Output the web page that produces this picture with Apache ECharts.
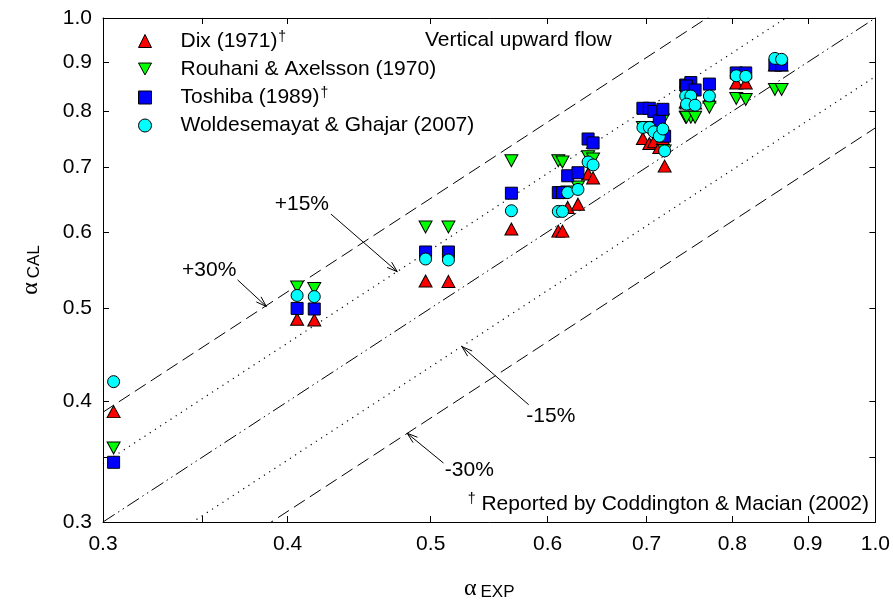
<!DOCTYPE html>
<html>
<head>
<meta charset="utf-8">
<script src="https://cdn.jsdelivr.net/npm/echarts@6/dist/echarts.min.js"></script>
<style>
  html, body { margin: 0; padding: 0; background: #fff; }
  #chart { width: 893px; height: 610px; }
</style>
</head>
<body>
<div id="chart"></div>
<script>
// Measured void fraction (shared by all four correlations)
const alphaExp = [0.305, 0.406, 0.417, 0.496, 0.514, 0.567, 0.610, 0.614, 0.619, 0.629, 0.639, 0.644,
  0.696, 0.703, 0.708, 0.714, 0.718, 0.720, 0.744, 0.750, 0.745, 0.755, 0.772, 0.805, 0.817, 0.855, 0.864];

// Predicted void fraction for each correlation
const dix = [0.3905, 0.487, 0.486, 0.5335, 0.533, 0.604, 0.601, 0.601, 0.636, 0.641, 0.689, 0.6825,
  0.750, 0.741, 0.744, 0.734, 0.750, 0.702, 0.818, 0.820, 0.816, 0.816, 0.828, 0.856, 0.856, 0.894, 0.894];
const rouhani = [0.358, 0.526, 0.524, 0.607, 0.607, 0.711, 0.711, 0.709, 0.660, 0.668, 0.718, 0.714,
  0.770, 0.770, 0.762, 0.754, 0.784, 0.728, 0.789, 0.789, 0.789, 0.789, 0.808, 0.825, 0.823, 0.843, 0.843];
const toshiba = [0.346, 0.4997, 0.499, 0.5718, 0.5718, 0.658, 0.659, 0.659, 0.686, 0.691, 0.749, 0.742,
  0.806, 0.806, 0.800, 0.782, 0.804, 0.754, 0.852, 0.857, 0.850, 0.842, 0.854, 0.877, 0.877, 0.894, 0.894];
const woldesemayat = [0.4195, 0.5154, 0.514, 0.5623, 0.561, 0.631, 0.630, 0.630, 0.659, 0.664, 0.709, 0.704,
  0.770, 0.770, 0.762, 0.754, 0.767, 0.728, 0.830, 0.830, 0.814, 0.812, 0.830, 0.871, 0.870, 0.908, 0.906];

const seriesNames = ['Dix (1971)', 'Rouhani & Axelsson (1970)', 'Toshiba (1989)', 'Woldesemayat & Ghajar (2007)'];
const daggered = ['Dix (1971)', 'Toshiba (1989)'];

// Axis ticks and labels
const tickValues = [0.3, 0.35, 0.4, 0.5, 0.6, 0.7, 0.8, 0.9, 1.0];
const labelValues = [0.3, 0.4, 0.5, 0.6, 0.7, 0.8, 0.9, 1.0];
const axisMin = 0.3, axisMax = 1.0;

// Error bands: alpha_CAL = factor * alpha_EXP
const bandFactors = [1.3, 1.15, 1, 1 / 1.15, 1 / 1.3];

// Band annotations (data units): label position, arrow tail, arrow tip
const bandLabels = ['+30%', '+15%', '-15%', '-30%'];
const bandLabelAt = [[0.354, 0.548], [0.409, 0.641], [0.603, 0.3865], [0.531, 0.3397]];
const bandArrowFrom = [[0.370, 0.535], [0.428, 0.626], [0.5825, 0.397], [0.510, 0.3454]];
const bandArrowTo = [[0.387, 0.502], [0.4746, 0.5455], [0.525, 0.456], [0.482, 0.3708]];

const FONT = "'Liberation Sans', Arial, Helvetica, sans-serif";
const lg = v => Math.log10(v);
const BLACK = '#000';
const DOWN_TRIANGLE = 'path://M0,0 L12,0 L6,11 Z';

const chart = echarts.init(document.getElementById('chart'), null, { renderer: 'canvas' });

const pairs = ys => alphaExp.map((x, i) => [x, ys[i]]);

const markerDefs = [
  { symbol: 'triangle', size: [13, 12], color: '#ff0000', data: dix },
  { symbol: DOWN_TRIANGLE, size: [13, 12], color: '#00ff00', data: rouhani },
  { symbol: 'rect', size: 12, color: '#0000ff', data: toshiba },
  { symbol: 'circle', size: 12, color: '#00ffff', data: woldesemayat }
];

const scatterSeries = markerDefs.map((m, i) => ({
  type: 'scatter', xAxisIndex: 0, yAxisIndex: 0, name: seriesNames[i],
  symbol: m.symbol, symbolSize: m.size, symbolKeepAspect: false,
  itemStyle: { color: m.color, borderColor: BLACK, borderWidth: 1, opacity: 1 },
  emphasis: { disabled: true }, data: pairs(m.data), z: 5
}));

const bandStyles = [
  { type: [13, 6], width: 1 },
  { type: [1.2, 5], width: 1.2 },
  { type: [14, 4, 1.5, 4, 1.5, 4], width: 1 },
  { type: [1.2, 5], width: 1.2 },
  { type: [13, 6], width: 1 }
];

const bandSeries = bandFactors.map((f, i) => ({
  type: 'line', xAxisIndex: 0, yAxisIndex: 0, silent: true, symbol: 'none', clip: true,
  lineStyle: { color: BLACK, width: bandStyles[i].width, type: bandStyles[i].type },
  data: [[axisMin, axisMin * f], [axisMax, axisMax * f]], z: 2
}));

const annotationSeries = {
  type: 'custom', xAxisIndex: 0, yAxisIndex: 0, silent: true, clip: false, z: 3,
  data: bandLabels.map((t, i) => [bandArrowFrom[i][0], bandArrowFrom[i][1], bandArrowTo[i][0], bandArrowTo[i][1], bandLabelAt[i][0], bandLabelAt[i][1]]),
  encode: { x: [0, 2, 4], y: [1, 3, 5] },
  renderItem: (params, api) => {
    const p0 = api.coord([api.value(0), api.value(1)]);
    const p1 = api.coord([api.value(2), api.value(3)]);
    const pt = api.coord([api.value(4), api.value(5)]);
    const ang = Math.atan2(p1[1] - p0[1], p1[0] - p0[0]);
    const L = 11, w = 0.32;
    const h1 = [p1[0] - L * Math.cos(ang - w), p1[1] - L * Math.sin(ang - w)];
    const h2 = [p1[0] - L * Math.cos(ang + w), p1[1] - L * Math.sin(ang + w)];
    return {
      type: 'group',
      children: [
        { type: 'line', shape: { x1: p0[0], y1: p0[1], x2: p1[0], y2: p1[1] }, style: { stroke: BLACK, lineWidth: 1 } },
        { type: 'polyline', shape: { points: [h1, p1, h2] }, style: { stroke: BLACK, fill: null, lineWidth: 1 } },
        { type: 'text', x: pt[0], y: pt[1], style: { text: bandLabels[params.dataIndex], fontSize: 21, fontFamily: FONT, fill: BLACK, align: 'center', verticalAlign: 'middle' } }
      ]
    };
  }
};

const tickCfg = { show: true, inside: true, length: 6, customValues: tickValues.map(lg), lineStyle: { color: BLACK, width: 1 } };
const hiddenLabels = { show: false };
const labelCfg = (margin) => ({
  show: true, customValues: labelValues.map(lg), margin: margin,
  formatter: v => Math.pow(10, v).toFixed(1), fontSize: 21, color: BLACK, fontFamily: FONT
});
const nameRich = {
  a: { fontSize: 24, fontFamily: "'Liberation Serif', 'DejaVu Serif', serif", color: BLACK },
  b: { fontSize: 17, fontFamily: FONT, color: BLACK, verticalAlign: 'bottom', padding: [0, 0, 0, 4] }
};

const option = {
  animation: false,
  backgroundColor: '#fff',
  grid: { left: 103, right: 15, top: 18, bottom: 88, containLabel: false },
  title: [
    { text: 'Vertical upward flow', left: 420, top: 25, textStyle: { fontSize: 21, fontWeight: 'normal', color: BLACK, fontFamily: FONT } },
    {
      text: '{s|†}{n| Reported by Coddington & Macian (2002)}', right: 19, top: 487,
      textStyle: {
        fontWeight: 'normal',
        rich: {
          s: { fontSize: 14, fontWeight: 'normal', fontFamily: FONT, color: BLACK, verticalAlign: 'top', lineHeight: 14 },
          n: { fontSize: 21, fontWeight: 'normal', fontFamily: FONT, color: BLACK, lineHeight: 24 }
        }
      }
    }
  ],
  legend: {
    orient: 'vertical', left: 133, top: 25, itemWidth: 13, itemHeight: 13, itemGap: 7,
    selectedMode: false, data: seriesNames,
    itemStyle: { borderColor: BLACK, borderWidth: 1, opacity: 1 },
    formatter: name => daggered.includes(name) ? `{n|${name}}{s|†}` : `{n|${name}}`,
    textStyle: {
      rich: {
        n: { fontSize: 21, fontFamily: FONT, color: BLACK, lineHeight: 22, padding: [0, 0, 0, 24] },
        s: { fontSize: 14, fontFamily: FONT, color: BLACK, verticalAlign: 'top', lineHeight: 12, padding: [0, 0, 0, 1] }
      }
    }
  },
  xAxis: [
    {
      type: 'log', logBase: 10, min: axisMin, max: axisMax, position: 'bottom',
      axisLine: { show: true, onZero: false, lineStyle: { color: BLACK, width: 1 } },
      axisTick: { show: false }, axisLabel: hiddenLabels, splitLine: { show: false }
    },
    {
      type: 'value', min: lg(axisMin), max: lg(axisMax), position: 'bottom',
      axisLine: { show: false, onZero: false }, axisTick: tickCfg, axisLabel: labelCfg(12),
      splitLine: { show: false },
      name: '{a|α}{b|EXP}', nameLocation: 'middle', nameGap: 55,
      nameTextStyle: { rich: nameRich }
    },
    {
      type: 'value', min: lg(axisMin), max: lg(axisMax), position: 'top',
      axisLine: { show: true, onZero: false, lineStyle: { color: BLACK, width: 1 } },
      axisTick: tickCfg, axisLabel: hiddenLabels, splitLine: { show: false }
    }
  ],
  yAxis: [
    {
      type: 'log', logBase: 10, min: axisMin, max: axisMax, position: 'left',
      axisLine: { show: true, onZero: false, lineStyle: { color: BLACK, width: 1 } },
      axisTick: { show: false }, axisLabel: hiddenLabels, splitLine: { show: false }
    },
    {
      type: 'value', min: lg(axisMin), max: lg(axisMax), position: 'left',
      axisLine: { show: false, onZero: false }, axisTick: tickCfg, axisLabel: labelCfg(11),
      splitLine: { show: false },
      name: '{a|α}{b|CAL}', nameLocation: 'middle', nameGap: 60, nameRotate: 90,
      nameTextStyle: { rich: nameRich }
    },
    {
      type: 'value', min: lg(axisMin), max: lg(axisMax), position: 'right',
      axisLine: { show: true, onZero: false, lineStyle: { color: BLACK, width: 1 } },
      axisTick: tickCfg, axisLabel: hiddenLabels, splitLine: { show: false }
    }
  ],
  series: [...bandSeries, annotationSeries, ...scatterSeries]
};

chart.setOption(option);
</script>
</body>
</html>
